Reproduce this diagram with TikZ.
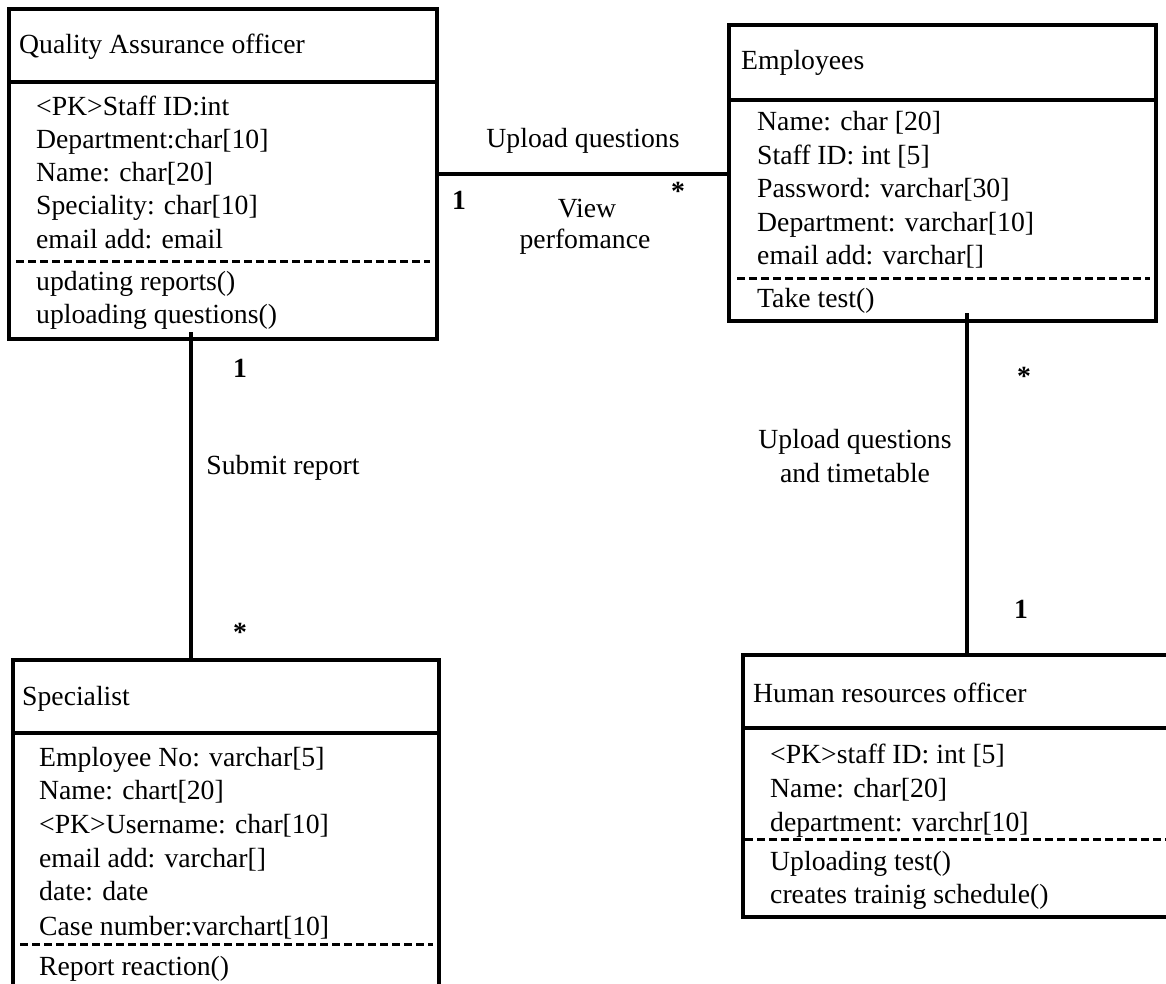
\documentclass[tikz,border=0pt]{standalone}
\usepackage{fontspec}
\setmainfont{Liberation Serif}
\begin{document}
\begin{tikzpicture}[x=1pt,y=-1pt,
  box/.style={draw, line width=3.2pt, rectangle, inner sep=0pt, outer sep=0pt, anchor=north west},
  sepline/.style={line width=3.2pt},
  dsep/.style={line width=3pt, dash pattern=on 8pt off 4pt},
  conn/.style={line width=3.2pt},
  txt/.style={anchor=base west, inner sep=0pt, font=\fontsize{27.7}{33}\selectfont},
  lbl/.style={anchor=base, inner sep=0pt, font=\fontsize{27.7}{33}\selectfont},
  mult/.style={anchor=base, inner sep=0pt, font=\fontsize{27.7}{33}\selectfont\bfseries}]
\clip (0,0) rectangle (1166,984);
\fill[white] (0,0) rectangle (1166,984);

% ---- boxes ----
\node[box, minimum width=428pt, minimum height=330pt] (qa) at (9,9) {};
\draw[sepline] ([yshift=-73pt]qa.north west) -- ([yshift=-73pt]qa.north east);
\draw[dsep] ([xshift=7pt,yshift=-252pt]qa.north west) -- ([xshift=-7pt,yshift=-252pt]qa.north east);

\node[box, minimum width=427pt, minimum height=296pt] (emp) at (729,25) {};
\draw[sepline] ([yshift=-75pt]emp.north west) -- ([yshift=-75pt]emp.north east);
\draw[dsep] ([xshift=8pt,yshift=-253pt]emp.north west) -- ([xshift=-6pt,yshift=-253pt]emp.north east);

\node[box, minimum width=426pt, minimum height=360pt] (spec) at (13,660) {};
\draw[sepline] ([yshift=-73pt]spec.north west) -- ([yshift=-73pt]spec.north east);
\draw[dsep] ([xshift=7pt,yshift=-284pt]spec.north west) -- ([xshift=-6pt,yshift=-284pt]spec.north east);

\node[box, minimum width=440pt, minimum height=262pt] (hr) at (743,655) {};
\draw[sepline] ([yshift=-73pt]hr.north west) -- ([yshift=-73pt]hr.north east);
\draw[dsep] ([xshift=2pt,yshift=-184pt]hr.north west) -- ([yshift=-184pt]hr.north east);

% ---- connectors ----
\draw[conn] (qa.east) -- (qa.east -| emp.west);
\draw[conn] ([xshift=-32pt,yshift=7pt]qa.south) -- ([xshift=-32pt]qa.south |- spec.north);
\draw[conn] ([xshift=24.5pt,yshift=8pt]emp.south) -- ([xshift=24.5pt]emp.south |- hr.north);

% ---- QA text ----
\node[txt] (qa0) at (19,54) {Quality Assurance officer};
\node[txt] (qa1) at (36,116) {<PK>Staff ID:int};
\node[txt] (qa2) at (36,149) {Department:char[10]};
\node[txt] (qa3) at (36,182) {Name: char[20]};
\node[txt] (qa4) at (36,215) {Speciality: char[10]};
\node[txt] (qa5) at (36,248) {email add: email};
\node[txt] (qa6) at (36,290) {updating reports()};
\node[txt] (qa7) at (36,323) {uploading questions()};

% ---- Employees text ----
\node[txt] (em0) at (741,70) {Employees};
\node[txt] (em1) at (757,131) {Name: char [20]};
\node[txt] (em2) at (757,165) {Staff ID: int [5]};
\node[txt] (em3) at (757,198) {Password: varchar[30]};
\node[txt] (em4) at (757,232) {Department: varchar[10]};
\node[txt] (em5) at (757,265) {email add: varchar[]};
\node[txt] (em6) at (757,307) {Take test()};

% ---- Specialist text ----
\node[txt] (sp0) at (22,705) {Specialist};
\node[txt] (sp1) at (39,766) {Employee No: varchar[5]};
\node[txt] (sp2) at (39,799) {Name: chart[20]};
\node[txt] (sp3) at (39,833) {<PK>Username: char[10]};
\node[txt] (sp4) at (39,867) {email add: varchar[]};
\node[txt] (sp5) at (39,900) {date: date};
\node[txt] (sp6) at (39,935) {Case number:varchart[10]};
\node[txt] (sp7) at (39,975) {Report reaction()};

% ---- HR text ----
\node[txt] (hr0) at (753,702) {Human resources officer};
\node[txt] (hr1) at (770,763) {<PK>staff ID: int [5]};
\node[txt] (hr2) at (770,797) {Name: char[20]};
\node[txt] (hr3) at (770,831) {department: varchr[10]};
\node[txt] (hr4) at (770,870) {Uploading test()};
\node[txt] (hr5) at (770,903) {creates trainig schedule()};

% ---- connector labels ----
\node[lbl] (l1) at (583,148) {Upload questions};
\node[lbl] (l2) at (587,218) {View};
\node[lbl] (l3) at (585,248) {perfomance};
\node[mult] (m1) at (459,210) {1};
\node[mult] (m2) at (678,201) {*};

\node[mult] (m3) at (240,377) {1};
\node[lbl] (l4) at (283,474) {Submit report};
\node[mult] (m4) at (240,641) {*};

\node[mult] (m5) at (1024,385) {*};
\node[lbl] (l5) at (855,448) {Upload questions};
\node[lbl] (l6) at (855,482) {and timetable};
\node[mult] (m6) at (1021,618) {1};
\end{tikzpicture}
\end{document}
